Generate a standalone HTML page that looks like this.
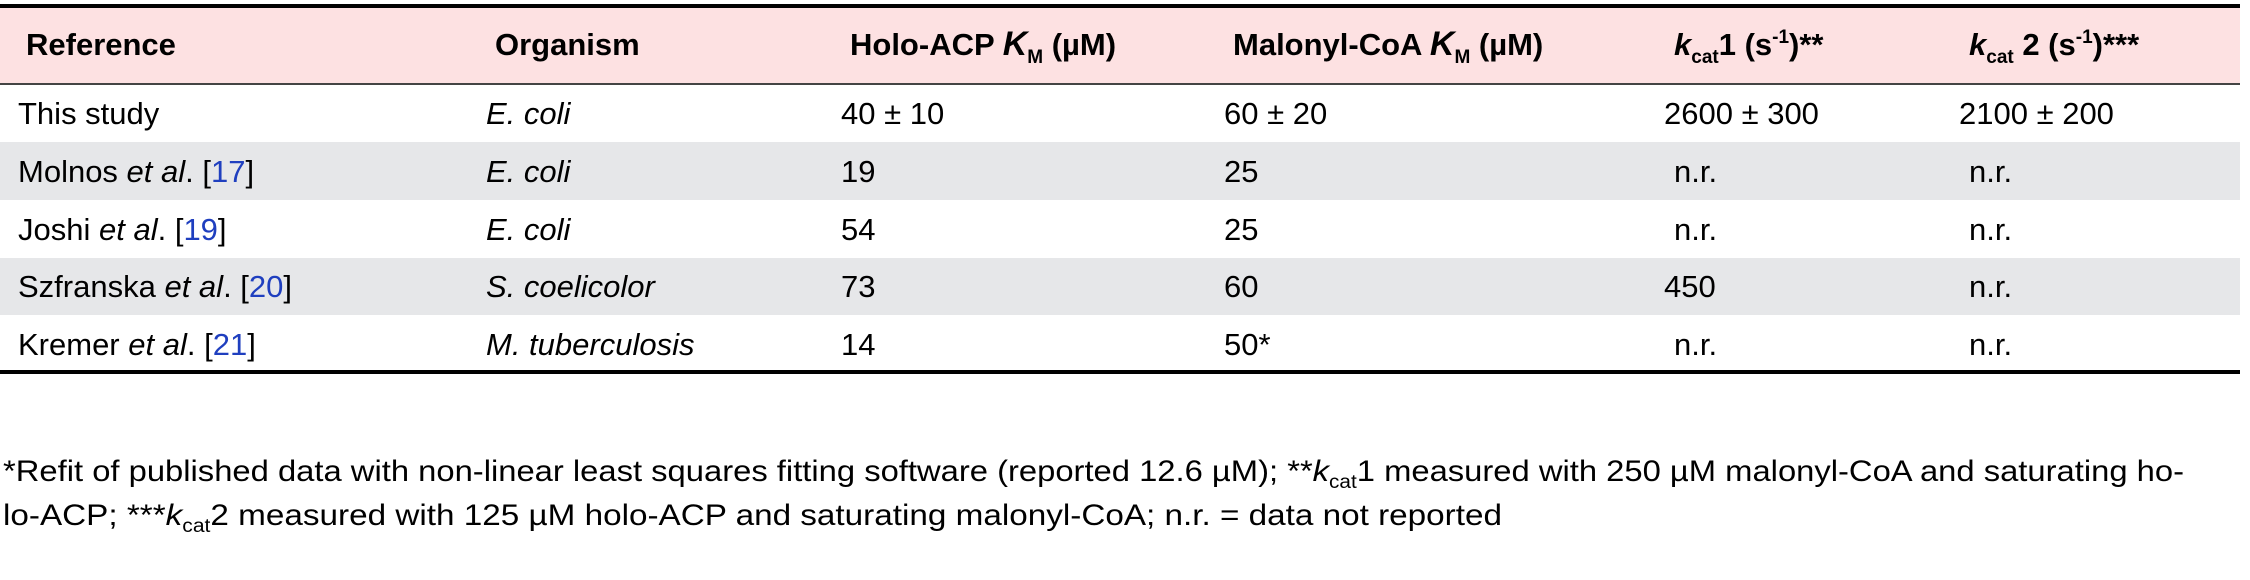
<!DOCTYPE html>
<html><head><meta charset="utf-8"><style>
html,body{margin:0;padding:0;background:#fff;}
svg{display:block;font-family:"Liberation Sans",Arial,sans-serif;}
.h{font-weight:bold;font-size:31px;fill:#000;}
.d{font-size:31px;fill:#000;}
.f{font-size:30px;fill:#000;}
.b{fill:#1f3fbf;}
</style></head><body>
<svg width="2250" height="580" viewBox="0 0 2250 580" xmlns="http://www.w3.org/2000/svg">
<rect x="0" y="8" width="2240" height="76" fill="#fde1e2"/>
<rect x="0" y="142" width="2240" height="58" fill="#e6e7e9"/>
<rect x="0" y="258" width="2240" height="57" fill="#e6e7e9"/>
<rect x="0" y="4" width="2240" height="4" fill="#000"/>
<rect x="0" y="83" width="2240" height="2" fill="#444"/>
<rect x="0" y="370" width="2240" height="4" fill="#000"/>

<text class="h" x="26" y="55">Reference</text>
<text class="h" x="495" y="55">Organism</text>
<text class="h" x="850" y="55">Holo-ACP <tspan font-style="italic" font-size="34">K</tspan><tspan font-size="19" dy="8">M</tspan><tspan dy="-8"> (µM)</tspan></text>
<text class="h" x="1233" y="55">Malonyl-CoA <tspan font-style="italic" font-size="34">K</tspan><tspan font-size="19" dy="8">M</tspan><tspan dy="-8"> (µM)</tspan></text>
<text class="h" x="1674" y="55"><tspan font-style="italic">k</tspan><tspan font-size="19" dy="8">cat</tspan><tspan dy="-8">1 (s</tspan><tspan font-size="19" dy="-12">-1</tspan><tspan dy="12">)**</tspan></text>
<text class="h" x="1969" y="55"><tspan font-style="italic">k</tspan><tspan font-size="19" dy="8">cat</tspan><tspan dy="-8"> 2 (s</tspan><tspan font-size="19" dy="-12">-1</tspan><tspan dy="12">)***</tspan></text>

<g class="d">
<text x="18" y="124">This study</text>
<text x="486" y="124" font-style="italic">E. coli</text>
<text x="841" y="124">40 ± 10</text>
<text x="1224" y="124">60 ± 20</text>
<text x="1664" y="124">2600 ± 300</text>
<text x="1959" y="124">2100 ± 200</text>

<text x="18" y="182">Molnos <tspan font-style="italic">et al</tspan>. [<tspan class="b">17</tspan>]</text>
<text x="486" y="182" font-style="italic">E. coli</text>
<text x="841" y="182">19</text>
<text x="1224" y="182">25</text>
<text x="1674" y="182">n.r.</text>
<text x="1969" y="182">n.r.</text>

<text x="18" y="240">Joshi <tspan font-style="italic">et al</tspan>. [<tspan class="b">19</tspan>]</text>
<text x="486" y="240" font-style="italic">E. coli</text>
<text x="841" y="240">54</text>
<text x="1224" y="240">25</text>
<text x="1674" y="240">n.r.</text>
<text x="1969" y="240">n.r.</text>

<text x="18" y="297">Szfranska <tspan font-style="italic">et al</tspan>. [<tspan class="b">20</tspan>]</text>
<text x="486" y="297" font-style="italic">S. coelicolor</text>
<text x="841" y="297">73</text>
<text x="1224" y="297">60</text>
<text x="1664" y="297">450</text>
<text x="1969" y="297">n.r.</text>

<text x="18" y="355">Kremer <tspan font-style="italic">et al</tspan>. [<tspan class="b">21</tspan>]</text>
<text x="486" y="355" font-style="italic">M. tuberculosis</text>
<text x="841" y="355">14</text>
<text x="1224" y="355">50*</text>
<text x="1674" y="355">n.r.</text>
<text x="1969" y="355">n.r.</text>
</g>

<text class="f" x="3" y="481" textLength="2181" lengthAdjust="spacingAndGlyphs">*Refit of published data with non-linear least squares fitting software (reported 12.6 µM); **<tspan font-style="italic">k</tspan><tspan font-size="19" dy="7">cat</tspan><tspan dy="-7">1 measured with 250 µM malonyl-CoA and saturating ho-</tspan></text>
<text class="f" x="3" y="525" textLength="1499" lengthAdjust="spacingAndGlyphs">lo-ACP; ***<tspan font-style="italic">k</tspan><tspan font-size="19" dy="7">cat</tspan><tspan dy="-7">2 measured with 125 µM holo-ACP and saturating malonyl-CoA; n.r. = data not reported</tspan></text>
</svg>
</body></html>
